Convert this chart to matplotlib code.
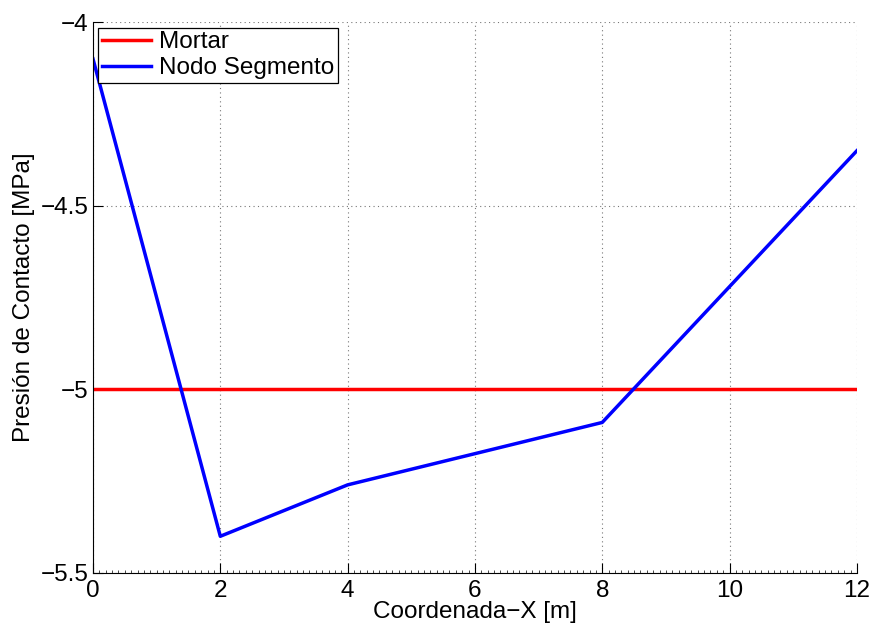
import matplotlib
matplotlib.use('Agg')
import matplotlib.pyplot as plt
import numpy as np
from matplotlib.ticker import AutoMinorLocator

x_mortar = [0, 12]
p_mortar = [-5.0, -5.0]

x_nodo = [0, 2, 4, 8, 12]
p_nodo = [-4.10, -5.40, -5.26, -5.09, -4.35]

plt.rcParams['font.family'] = ['Liberation Sans', 'DejaVu Sans']
plt.rcParams['font.size'] = 17.5

fig = plt.figure(figsize=(8.74, 6.28), dpi=100)
ax = fig.add_axes([0.1064, 0.0876, 0.874, 0.877])

ax.plot(x_mortar, p_mortar, color='#ff0000', lw=2.5, label='Mortar')
ax.plot(x_nodo, p_nodo, color='#0000ff', lw=2.5, label='Nodo Segmento')

ax.set_xlim(0, 12)
ax.set_ylim(-5.5, -4)
ax.set_xticks([0, 2, 4, 6, 8, 10, 12])
ax.set_yticks([-5.5, -5, -4.5, -4])
ax.set_yticklabels(['\u22125.5', '\u22125', '\u22124.5', '\u22124'])
ax.xaxis.set_minor_locator(AutoMinorLocator(20))
ax.tick_params(which='major', direction='in', length=7, width=0.8, pad=3)
ax.tick_params(axis='x', which='major', pad=5)
ax.tick_params(which='minor', direction='in', length=2, width=0.5)
ax.grid(True, which='major', linestyle=(0, (1, 3)), color='#777777', linewidth=0.8)
ax.spines['top'].set_visible(False)
ax.spines['right'].set_visible(False)

ax.set_xlabel('Coordenada\u2212X [m]', labelpad=-1)
ax.set_ylabel('Presión de Contacto [MPa]', labelpad=4)

leg = ax.legend(loc='upper left', bbox_to_anchor=(0.007, 0.99), fancybox=False,
                edgecolor='black', framealpha=1, borderpad=0.15, labelspacing=0.15,
                handlelength=2.0, handletextpad=0.35, borderaxespad=0)
leg.get_frame().set_linewidth(0.9)

fig.savefig('out.png', dpi=100)
